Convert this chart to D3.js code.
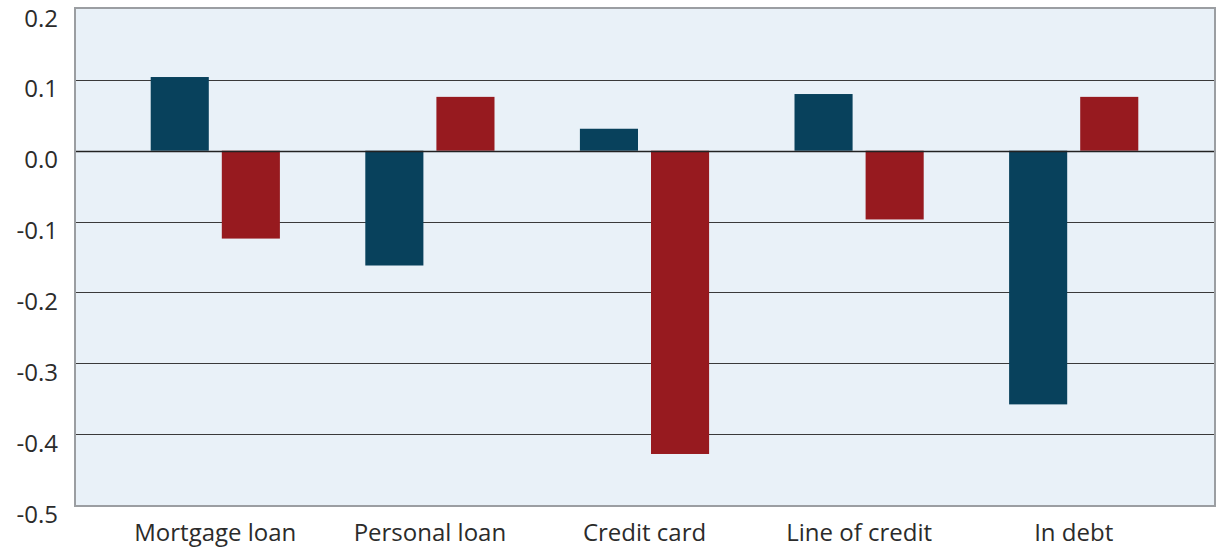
<!DOCTYPE html>
<html>
<head>
<meta charset="utf-8">
<script src="https://cdn.jsdelivr.net/npm/d3@7"></script>
<style>
  html, body { margin: 0; padding: 0; background: #ffffff; }
  svg { display: block; }
  text { font-family: "Open Sans", Lato, sans-serif; fill: #2b2b2b; }
</style>
</head>
<body>
<svg id="chart" width="1222" height="550"></svg>
<script>
// Categories and the two series (change values)
const categories = ["Mortgage loan", "Personal loan", "Credit card", "Line of credit", "In debt"];
const seriesNames = ["Series A", "Series B"];
const seriesA = [0.104, -0.162, 0.031, 0.080, -0.358];
const seriesB = [-0.124, 0.076, -0.428, -0.097, 0.076];
const yTicks = [0.2, 0.1, 0.0, -0.1, -0.2, -0.3, -0.4, -0.5];
const colors = ["#08415c", "#971a1f"];

const svg = d3.select("#chart");
const frame = { left: 76, right: 1214, top: 9, bottom: 505 };
const fontFamily = "'Open Sans', Lato, sans-serif";

const y = d3.scaleLinear().domain([-0.5, 0.2]).range([frame.bottom, frame.top]);
const x0 = d3.scaleBand().domain(categories).range([108, 1181]).paddingInner(0.398).paddingOuter(0.199);
const x1 = d3.scaleBand().domain(seriesNames).range([0, x0.bandwidth()]).paddingInner(0.183);

// plot background
svg.append("rect")
  .attr("x", frame.left).attr("y", frame.top)
  .attr("width", frame.right - frame.left).attr("height", frame.bottom - frame.top)
  .attr("fill", "#e9f1f8");

// horizontal grid lines
const grid = svg.append("g")
  .attr("transform", `translate(${frame.left},0)`)
  .call(d3.axisLeft(y).tickValues(yTicks.filter(v => v > -0.5 && v < 0.2)).tickSize(-(frame.right - frame.left)).tickFormat(""));
grid.select(".domain").remove();
grid.selectAll("line").attr("stroke", "#3a3a3a").attr("stroke-width", 1).attr("shape-rendering", "crispEdges");

// bars
const rows = categories.map((c, i) => ({ cat: c, vals: [seriesA[i], seriesB[i]] }));
svg.append("g").selectAll("g").data(rows).join("g")
  .attr("transform", d => `translate(${x0(d.cat)},0)`)
  .selectAll("rect").data(d => d.vals.map((v, j) => ({ v, s: seriesNames[j], j })))
  .join("rect")
  .attr("x", d => x1(d.s))
  .attr("width", x1.bandwidth())
  .attr("y", d => y(Math.max(0, d.v)))
  .attr("height", d => Math.abs(y(d.v) - y(0)))
  .attr("fill", d => colors[d.j]);

// zero line on top of bars
svg.append("line")
  .attr("x1", frame.left).attr("x2", frame.right)
  .attr("y1", Math.round(y(0)) + 0.5).attr("y2", Math.round(y(0)) + 0.5)
  .attr("stroke", "#222").attr("stroke-width", 1.5);

// frame border
svg.append("rect")
  .attr("x", frame.left - 1).attr("y", frame.top - 1)
  .attr("width", frame.right - frame.left + 2).attr("height", frame.bottom - frame.top + 2)
  .attr("fill", "none").attr("stroke", "#9b9ea2").attr("stroke-width", 2);

// y-axis labels (set slightly below their grid lines)
const yAxis = svg.append("g")
  .attr("transform", `translate(58,0)`)
  .call(d3.axisLeft(y).tickValues(yTicks).tickSize(0).tickPadding(0).tickFormat(d3.format(".1f")));
yAxis.select(".domain").remove();
yAxis.selectAll("text")
  .style("font-family", fontFamily)
  .style("font-size", "24px").attr("fill", "#2b2b2b")
  .attr("dy", "17px")
  .text(d => d3.format(".1f")(d).replace("−", "-"));

// x-axis category labels
const xAxis = svg.append("g")
  .attr("transform", `translate(0,541)`)
  .call(d3.axisBottom(x0).tickSize(0).tickPadding(0));
xAxis.select(".domain").remove();
xAxis.selectAll("text")
  .attr("y", 0).attr("dy", 0)
  .style("font-family", fontFamily)
  .style("font-size", "24px").attr("fill", "#2b2b2b");
</script>
</body>
</html>
